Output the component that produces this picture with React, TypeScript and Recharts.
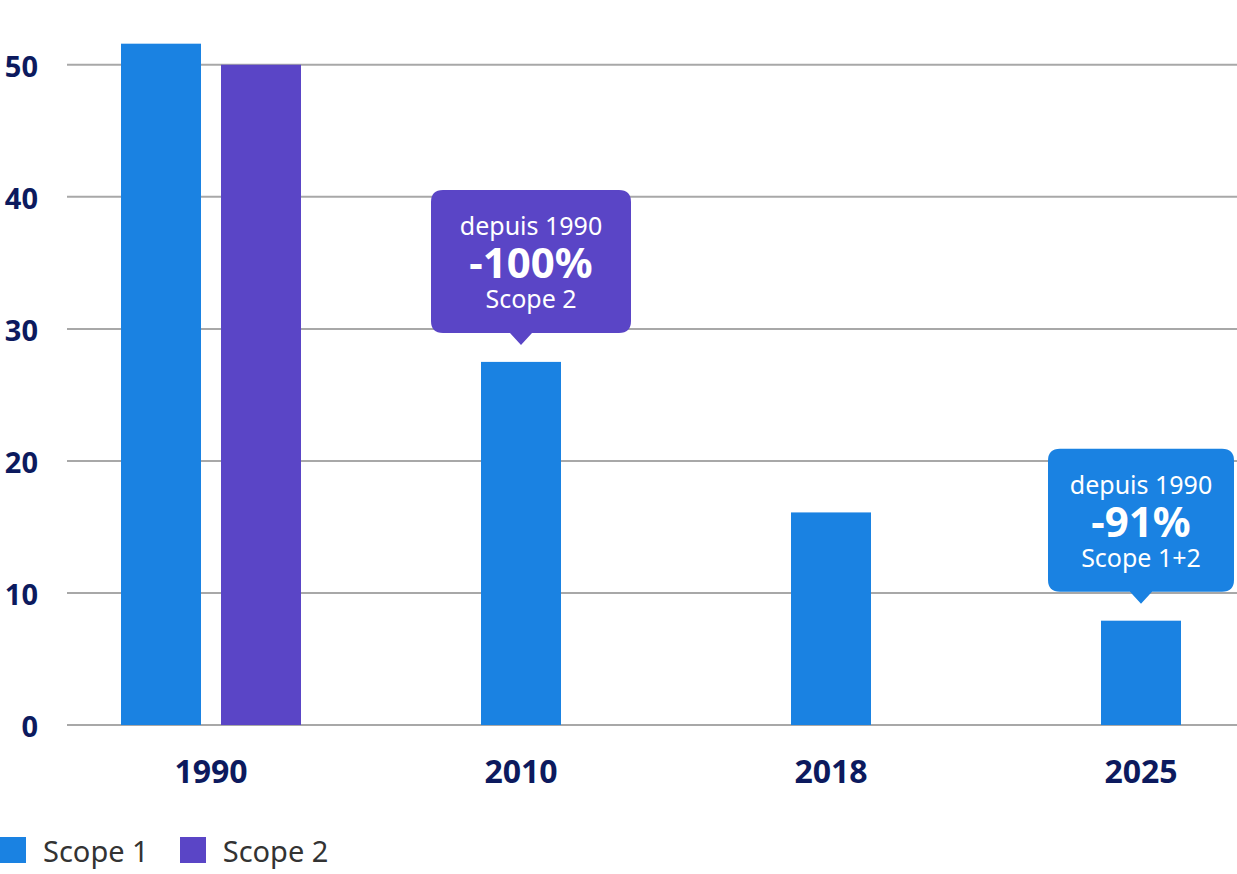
import React from 'react';
import { BarChart, Bar, XAxis, YAxis, CartesianGrid, Legend } from 'recharts';

// ---- data ----
const categories = ['1990', '2010', '2018', '2025'];
const scope1Values: number[] = [51.6, 27.5, 16.1, 7.9];
const scope2Values: (number | null)[] = [50, null, null, null];
const yTicks = [0, 10, 20, 30, 40, 50];
const seriesNames = ['Scope 1', 'Scope 2'];

const calloutCategories = ['2010', '2025'];
const calloutHeadlines = ['depuis 1990', 'depuis 1990'];
const calloutValues = ['-100%', '-91%'];
const calloutScopes = ['Scope 2', 'Scope 1+2'];

// ---- styles ----
const BLUE = '#1a82e2';
const PURPLE = '#5a45c6';
const NAVY = '#0c1a5e';
const FONT = '"Noto Sans", "Open Sans", sans-serif';
const BAR_SIZE = 80;
const BAR_GAP = 20;
const calloutColors = [PURPLE, BLUE];
const calloutWidths = [200, 186];
const calloutShifts = [10, 0];

const data = categories.map((year, i) => ({
  year,
  scope1: scope1Values[i],
  scope2: scope2Values[i],
}));

function Callout({ cx, top, i }: { cx: number; top: number; i: number }) {
  const tipY = top - 17;
  const bh = 143;
  const bw = calloutWidths[i];
  const by = tipY - 12 - bh;
  const bx = cx - bw / 2 + calloutShifts[i];
  const r = 12;
  const t = 11;
  const d = [
    `M ${bx + r} ${by}`,
    `H ${bx + bw - r}`,
    `Q ${bx + bw} ${by} ${bx + bw} ${by + r}`,
    `V ${by + bh - r}`,
    `Q ${bx + bw} ${by + bh} ${bx + bw - r} ${by + bh}`,
    `H ${cx + t}`,
    `L ${cx} ${tipY}`,
    `L ${cx - t} ${by + bh}`,
    `H ${bx + r}`,
    `Q ${bx} ${by + bh} ${bx} ${by + bh - r}`,
    `V ${by + r}`,
    `Q ${bx} ${by} ${bx + r} ${by}`,
    'Z',
  ].join(' ');
  const tx = bx + bw / 2;
  return (
    <g>
      <path d={d} fill={calloutColors[i]} />
      <text x={tx} y={by + 45} textAnchor="middle" fill="#fff" fontFamily={FONT} fontSize={25}>
        {calloutHeadlines[i]}
      </text>
      <text x={tx} y={by + 88} textAnchor="middle" fill="#fff" fontFamily={FONT} fontSize={42} fontWeight={700}>
        {calloutValues[i]}
      </text>
      <text x={tx} y={by + 118} textAnchor="middle" fill="#fff" fontFamily={FONT} fontSize={25}>
        {calloutScopes[i]}
      </text>
    </g>
  );
}

function Scope1Shape(props: any) {
  const { x, y, width, height, payload, fill } = props;
  const single = payload.scope2 == null;
  const nx = single ? x + (BAR_SIZE + BAR_GAP) / 2 : x;
  const ci = calloutCategories.indexOf(payload.year);
  return (
    <g>
      <rect x={nx} y={y} width={width} height={height} fill={fill} />
      {ci >= 0 && <Callout cx={nx + width / 2} top={y} i={ci} />}
    </g>
  );
}

function LegendContent(props: any) {
  const items = props.payload || [];
  return (
    <div style={{ height: 44, display: 'flex', alignItems: 'center', fontFamily: FONT }}>
      {items.map((it: any, idx: number) => (
        <div key={idx} style={{ display: 'flex', alignItems: 'center', marginRight: 31 }}>
          <div style={{ width: 26, height: 26, background: it.color, marginRight: 17 }} />
          <span style={{ fontSize: 29, color: '#333', lineHeight: '29px' }}>{it.value}</span>
        </div>
      ))}
    </div>
  );
}

export default function App() {
  return (
    <div style={{ position: 'absolute', left: 0, top: 0, width: 1237, height: 874, background: '#fff' }}>
      <BarChart
        width={1237}
        height={874}
        data={data}
        margin={{ top: 12, right: 0, bottom: 2, left: 0 }}
        barGap={BAR_GAP}
        barSize={BAR_SIZE}
      >
        <CartesianGrid vertical={false} horizontalValues={yTicks} stroke="#a8a8a8" strokeWidth={2} />
        <XAxis
          dataKey="year"
          height={103}
          padding={{ left: -11, right: -59 }}
          axisLine={false}
          tickLine={false}
          tickSize={0}
          tickMargin={35}
          tick={{ fontSize: 32, fontWeight: 700, fill: NAVY, fontFamily: FONT }}
        />
        <YAxis
          width={67}
          domain={[0, 54]}
          ticks={yTicks}
          interval={0}
          axisLine={false}
          tickLine={false}
          tickSize={0}
          tickMargin={29}
          tick={{ fontSize: 29, fontWeight: 700, fill: NAVY, fontFamily: FONT, dy: 2 }}
        />
        <Legend verticalAlign="bottom" align="left" content={<LegendContent />} />
        <Bar
          dataKey="scope1"
          name={seriesNames[0]}
          fill={BLUE}
          isAnimationActive={false}
          shape={Scope1Shape}
        />
        <Bar dataKey="scope2" name={seriesNames[1]} fill={PURPLE} isAnimationActive={false} />
      </BarChart>
    </div>
  );
}
